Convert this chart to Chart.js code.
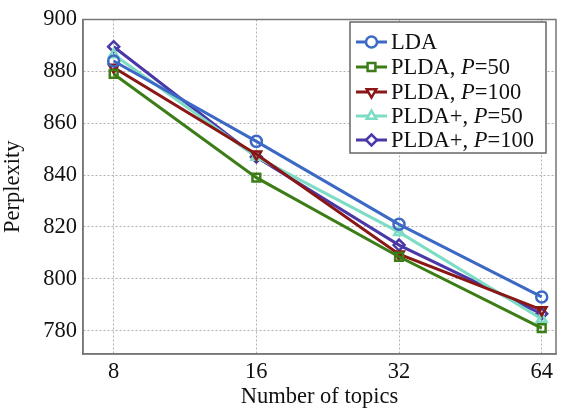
<!DOCTYPE html>
<html>
<head>
<meta charset="utf-8">
<script src="https://cdn.jsdelivr.net/npm/chart.js@4.4.1/dist/chart.umd.min.js"></script>
<style>
  html, body { margin: 0; padding: 0; background: #fff; }
  #wrap { width: 567px; height: 411px; }
</style>
</head>
<body>
<div id="wrap"><canvas id="chart" width="567" height="411"></canvas></div>
<script>
// topic counts on the x axis (plotted at even spacing)
const topics = ["8", "16", "32", "64"];
const yTicks = [780, 800, 820, 840, 860, 880, 900];

// perplexity per series
const lda = [884, 853, 821, 793];
const plda50 = [879, 839, 808.5, 781];
const plda100 = [881.5, 848, 809.5, 788];
const pldaPlus50 = [886.5, 847, 818, 784.5];
const pldaPlus100 = [889.5, 847, 813, 786.5];

const seriesNames = [
  ["LDA", ""],
  ["PLDA, ", "50"],
  ["PLDA, ", "100"],
  ["PLDA+, ", "50"],
  ["PLDA+, ", "100"],
];

function toPoints(arr) {
  return arr.map((v, i) => ({ x: i, y: v }));
}

function makeSet(label, data, color, style, rotation) {
  return {
    label: label,
    data: toPoints(data),
    borderColor: color,
    backgroundColor: "rgba(255,255,255,0)",
    borderWidth: 3,
    pointStyle: style,
    pointRotation: rotation || 0,
    pointRadius: 5.5,
    pointBorderWidth: 2.5,
    pointBorderColor: color,
    pointBackgroundColor: "rgba(255,255,255,0)",
    tension: 0,
  };
}

const FONT = "'Liberation Serif'";
const SIZE = 22.5;

// legend drawn by hand so the P can be italic
const legendBox = {
  id: "legendBox",
  afterDraw(chart) {
    const ctx = chart.ctx;
    const x0 = 350, y0 = 22, w = 196, h = 131;
    ctx.save();
    ctx.fillStyle = "#fff";
    ctx.fillRect(x0, y0, w, h);
    ctx.strokeStyle = "#666";
    ctx.lineWidth = 1.5;
    ctx.strokeRect(x0, y0, w, h);
    const rows = [42, 67, 92, 116, 140];
    chart.data.datasets.forEach((ds, i) => {
      const y = rows[i];
      ctx.strokeStyle = ds.borderColor;
      ctx.lineWidth = 3;
      ctx.beginPath();
      ctx.moveTo(356, y);
      ctx.lineTo(387, y);
      ctx.stroke();
      ctx.lineWidth = 2.5;
      ctx.fillStyle = "rgba(255,255,255,1)";
      Chart.helpers.drawPoint(ctx, {
        pointStyle: ds.pointStyle,
        rotation: ds.pointRotation,
        radius: 5.5,
        borderWidth: 2.5,
      }, 371.5, y);
      ctx.fillStyle = "#111";
      ctx.textBaseline = "middle";
      ctx.font = SIZE + "px " + FONT;
      let tx = 391;
      const [pre, val] = seriesNames[i];
      ctx.fillText(pre, tx, y + 1);
      tx += ctx.measureText(pre).width;
      if (val) {
        ctx.font = "italic " + SIZE + "px " + FONT;
        ctx.fillText("P", tx, y + 1);
        tx += ctx.measureText("P").width;
        ctx.font = SIZE + "px " + FONT;
        ctx.fillText("=" + val, tx, y + 1);
      }
    });
    ctx.restore();
  },
};

const serif = { family: FONT + ", serif", size: SIZE };

new Chart(document.getElementById("chart"), {
  type: "line",
  data: {
    datasets: [
      makeSet("LDA", lda, "#3d69c6", "circle"),
      makeSet("PLDA, P=50", plda50, "#3c7d18", "rect"),
      makeSet("PLDA, P=100", plda100, "#8a1616", "triangle", 180),
      makeSet("PLDA+, P=50", pldaPlus50, "#7ddcc4", "triangle"),
      makeSet("PLDA+, P=100", pldaPlus100, "#4a38a8", "rectRot"),
    ],
  },
  options: {
    responsive: false,
    animation: false,
    devicePixelRatio: 1,
    layout: { padding: { top: 13, right: 11, left: 0, bottom: 0 } },
    plugins: { legend: { display: false }, tooltip: { enabled: false } },
    scales: {
      x: {
        type: "linear",
        min: -0.215,
        max: 3.1,
        afterBuildTicks(scale) {
          scale.ticks = topics.map((t, i) => ({ value: i }));
        },
        afterFit(scale) { scale.height = 57; },
        ticks: {
          color: "#111",
          font: serif,
          padding: 5,
          callback: (v) => topics[v],
        },
        grid: { color: "#b0b0b0", lineWidth: 1, drawTicks: false },
        border: { display: true, color: "#777", width: 1.5, dash: [2, 2] },
        title: {
          display: true,
          text: "Number of topics",
          color: "#111",
          font: serif,
          padding: { top: 0, bottom: 0 },
        },
      },
      y: {
        min: 771,
        max: 900,
        afterBuildTicks(scale) {
          scale.ticks = yTicks.map((v) => ({ value: v }));
        },
        afterFit(scale) { scale.width = 83; },
        ticks: { color: "#111", font: serif, padding: 6 },
        grid: { color: "#b0b0b0", lineWidth: 1, drawTicks: false },
        border: { display: true, color: "#777", width: 1.5, dash: [2, 2] },
        title: {
          display: true,
          text: "Perplexity",
          color: "#111",
          font: serif,
          padding: { top: 0, bottom: 0 },
        },
      },
    },
  },
  plugins: [
    {
      id: "frame",
      beforeDatasetsDraw(chart) {
        const a = chart.chartArea;
        const ctx = chart.ctx;
        ctx.save();
        ctx.strokeStyle = "#777";
        ctx.lineWidth = 1.5;
        ctx.setLineDash([]);
        ctx.strokeRect(a.left, a.top, a.right - a.left, a.bottom - a.top);
        ctx.restore();
      },
    },
    legendBox,
  ],
});
</script>
</body>
</html>
